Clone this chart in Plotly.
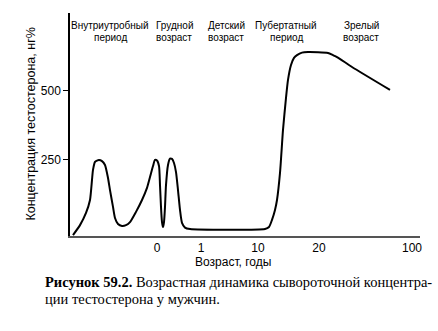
import plotly.graph_objects as go

# Position along the (non-linear) age axis, in axis units, and testosterone, ng%
pos = [3, 10, 16, 20, 22, 23, 25, 27, 29, 32, 35, 38, 40, 43, 45, 48, 52, 56, 60, 66,
       72, 77, 80, 83, 85, 87, 89, 90, 91, 92, 93, 94, 95, 96, 98, 100, 102, 104, 106,
       108, 110, 112, 115, 120, 195, 199, 202, 205, 207, 210, 213, 216, 218, 221, 224,
       227, 232, 238, 258, 263, 267, 282, 320]
conc = [-22, 14, 58, 105, 178, 214, 243, 248, 250, 246, 232, 185, 141, 80, 40, 18, 11,
        14, 25, 62, 105, 149, 188, 228, 250, 248, 228, 159, 80, 25, 7, 25, 80, 159, 232,
        255, 254, 239, 206, 141, 69, 22, 5, 0, 0, 7, 33, 69, 105, 203, 359, 475, 540,
        594, 620, 630, 639, 641, 638, 630, 623, 587, 504]

x_tick_pos = [87, 131, 188, 249, 342]
x_tick_text = ["0", "1", "10", "20", "100"]
y_tick_vals = [250, 500]

period_line1 = ["Внутриутробный", "Грудной", "Детский", "Пубертатный", "Зрелый"]
period_line2 = ["период", "возраст", "возраст", "период", "возраст"]
period_pos = [40, 104, 156, 216, 291]

fig = go.Figure()
fig.add_trace(go.Scatter(x=pos, y=conc, mode="lines",
                         line=dict(color="black", width=2, shape="spline", smoothing=0.6),
                         hoverinfo="skip"))

sans = "Liberation Sans, Arial, sans-serif"
for t1, t2, p in zip(period_line1, period_line2, period_pos):
    fig.add_annotation(x=p, xref="x", y=(236 - 26) / 223, yref="paper", text=t1,
                       showarrow=False, xanchor="center", yanchor="middle",
                       font=dict(family=sans, size=10, color="black"))
    fig.add_annotation(x=p, xref="x", y=(236 - 37.5) / 223, yref="paper", text=t2,
                       showarrow=False, xanchor="center", yanchor="middle",
                       font=dict(family=sans, size=10, color="black"))

fig.add_annotation(x=-0.114, xref="paper", y=0.50, yref="paper",
                   text="Концентрация тестостерона, нг%", textangle=-90, showarrow=False,
                   xanchor="center", yanchor="middle",
                   font=dict(family=sans, size=12.5, color="black"))

fig.add_annotation(x=0.466, xref="paper", y=(236 - 262) / 223, yref="paper",
                   text="Возраст, годы", showarrow=False, xanchor="center", yanchor="middle",
                   font=dict(family=sans, size=12, color="black"))

serif = "Liberation Serif, Times New Roman, serif"
fig.add_annotation(x=(43 - 70) / 350, xref="paper", y=(236 - 282) / 223, yref="paper",
                   text="<b>Рисунок 59.2.</b> Возрастная динамика сывороточной концентра-",
                   showarrow=False, xanchor="left", yanchor="middle",
                   font=dict(family=serif, size=14.5, color="black"))
fig.add_annotation(x=(43 - 70) / 350, xref="paper", y=(236 - 299) / 223, yref="paper",
                   text="ции тестостерона у мужчин.",
                   showarrow=False, xanchor="left", yanchor="middle",
                   font=dict(family=serif, size=14.5, color="black"))

fig.update_layout(
    width=438, height=331,
    margin=dict(l=70, r=18, t=13, b=95),
    paper_bgcolor="white", plot_bgcolor="white",
    showlegend=False,
    xaxis=dict(range=[0, 350], tickvals=x_tick_pos, ticktext=x_tick_text,
               showgrid=False, zeroline=False, showline=True, linecolor="#555",
               linewidth=1.5, ticks="", tickfont=dict(family=sans, size=12, color="black")),
    yaxis=dict(range=[-25.4, 782.6], tickvals=y_tick_vals, showgrid=False, zeroline=False,
               showline=True, linecolor="black", linewidth=1.5, ticks="outside",
               ticklen=5, tickcolor="black",
               tickfont=dict(family=sans, size=12, color="black")),
)

fig.write_html("out.html")
